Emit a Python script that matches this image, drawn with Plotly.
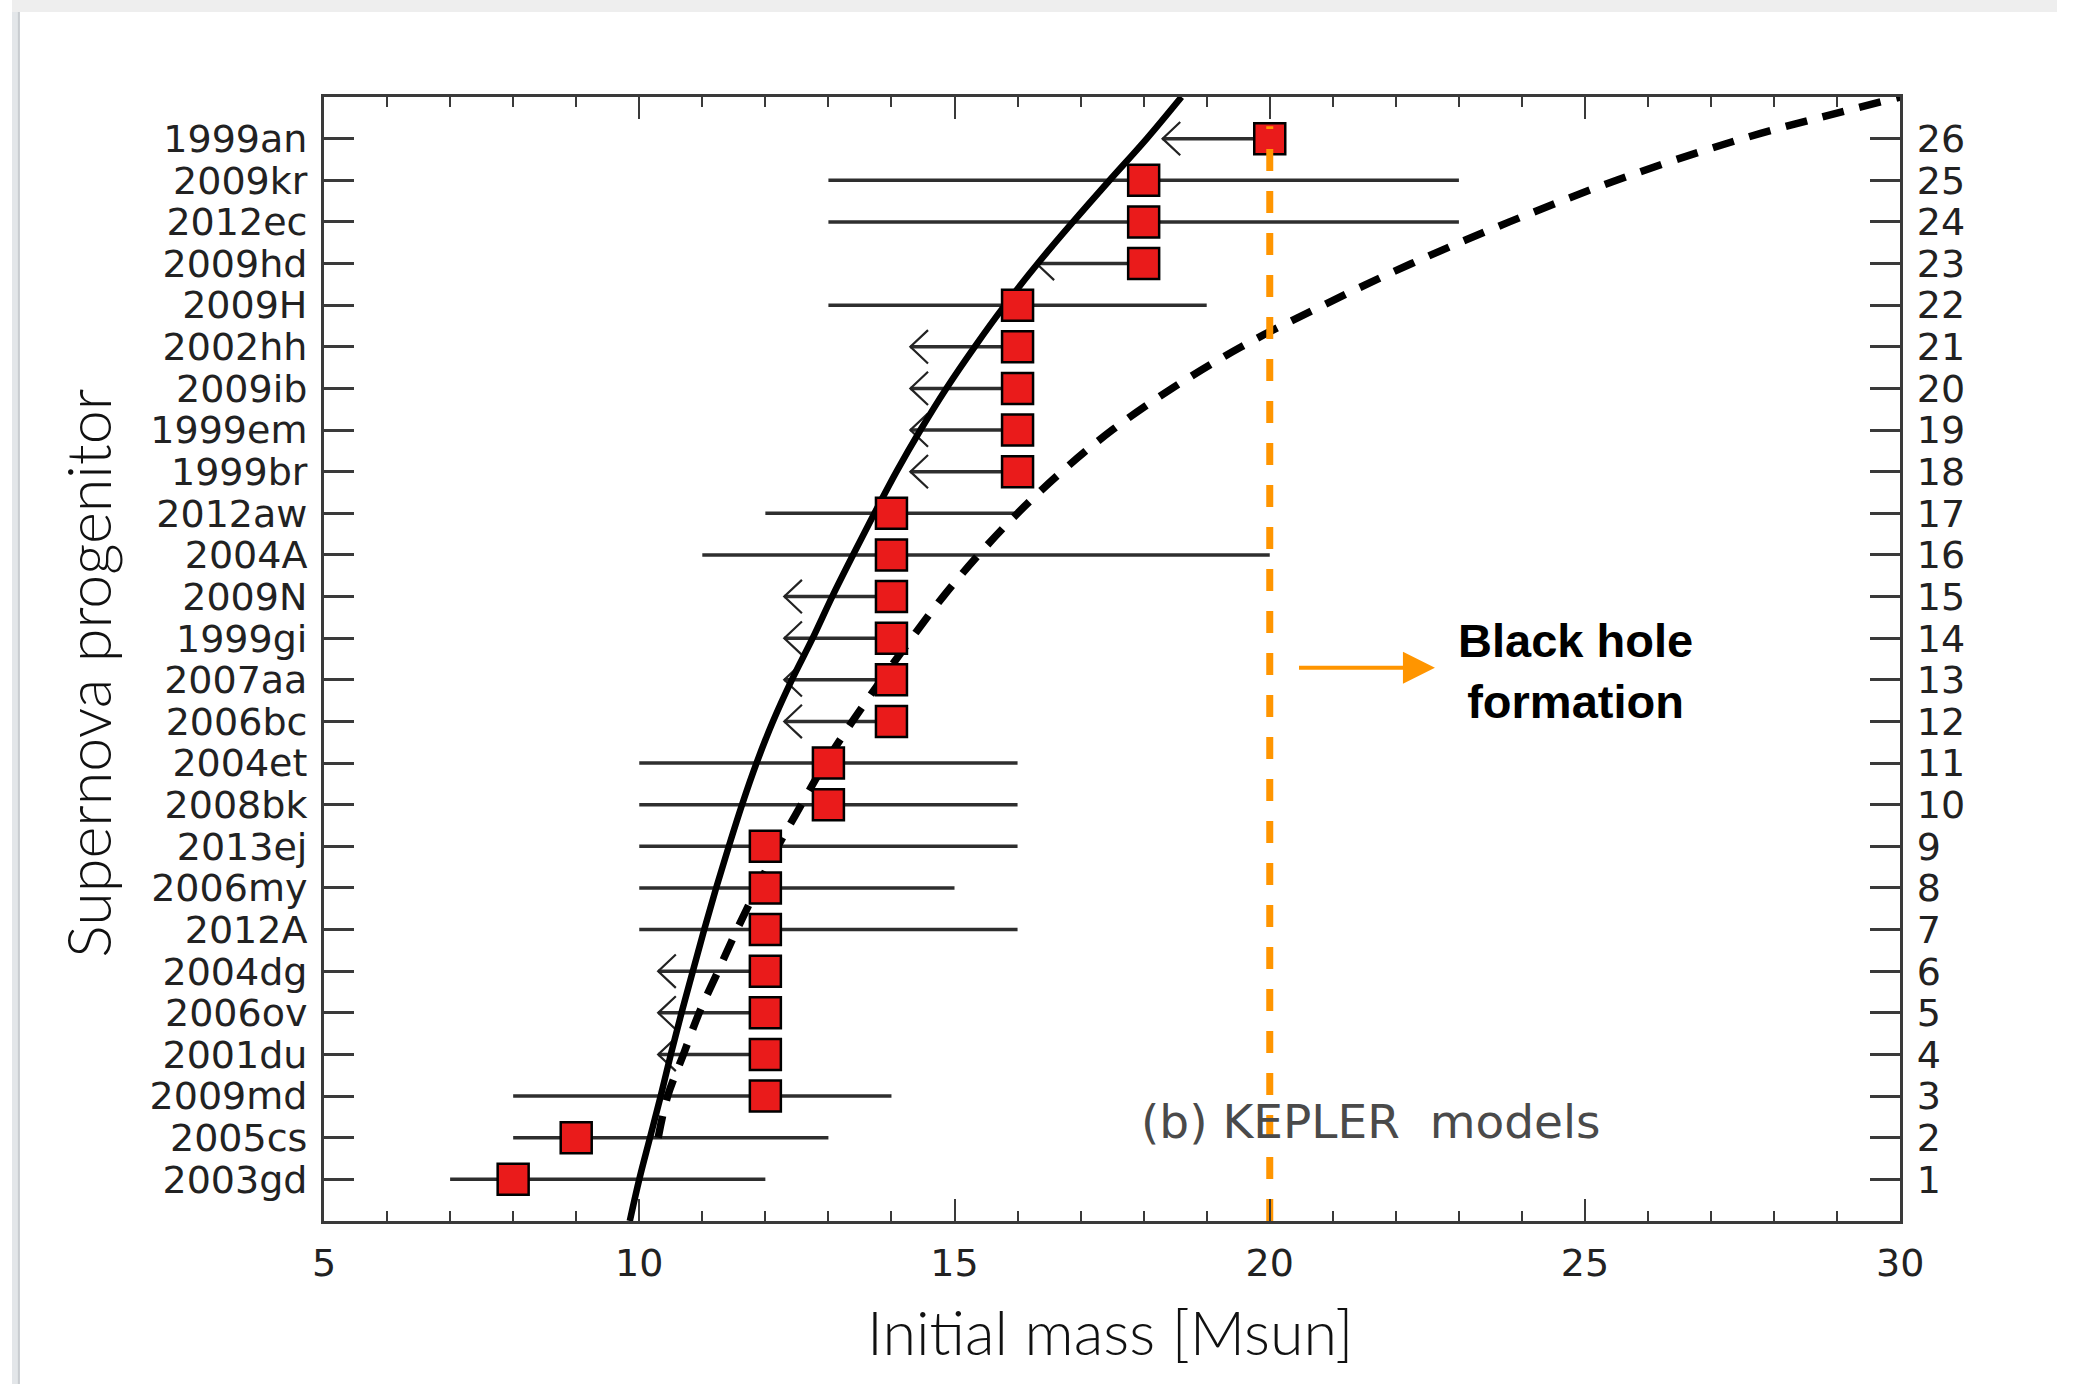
import plotly.graph_objects as go

# ---------------- data ----------------
names = ["2003gd", "2005cs", "2009md", "2001du", "2006ov", "2004dg", "2012A",
         "2006my", "2013ej", "2008bk", "2004et", "2006bc", "2007aa", "1999gi",
         "2009N", "2004A", "2012aw", "1999br", "1999em", "2009ib", "2002hh",
         "2009H", "2009hd", "2012ec", "2009kr", "1999an"]
rank = list(range(1, 27))
mass = [8, 9, 12, 12, 12, 12, 12, 12, 12, 13, 13, 14, 14, 14, 14, 14, 14,
        16, 16, 16, 16, 16, 18, 18, 18, 20]
mass_lo = [7, 8, 8, None, None, None, 10, 10, 10, 10, 10, None, None, None,
           None, 11, 12, None, None, None, None, 13, None, 13, 13, None]
mass_hi = [12, 13, 14, None, None, None, 16, 15, 16, 16, 16, None, None, None,
           None, 20, 16, None, None, None, None, 19, None, 23, 23, None]

# model curves (KEPLER)
solid_y = list(range(0, 28))
solid_x = [9.85, 10.0, 10.17, 10.34, 10.5, 10.67, 10.85, 11.03, 11.22, 11.42,
           11.63, 11.86, 12.12, 12.42, 12.75, 13.06, 13.39, 13.73, 14.08,
           14.46, 14.87, 15.32, 15.8, 16.32, 16.88, 17.46, 18.05, 18.6]
dashed_y = list(range(2, 28))
dashed_x = [10.3, 10.45, 10.7, 10.95, 11.25, 11.55, 11.87, 12.2, 12.57,
            12.95, 13.38, 13.84, 14.32, 14.82, 15.38, 16.0, 16.7, 17.5,
            18.45, 19.55, 20.85, 22.25, 23.8, 25.5, 27.5, 30.0]

bh_mass = 20          # black-hole formation threshold
bh_line_top = 26.3

# ---------------- style constants ----------------
ARROW_LEN = 1.7
CHEV_DX = 0.28
CHEV_DY = 0.4
W, H = 2081, 1384
XL, XR, YT, YB = 317.5, 1921.5, 97, 1221
ORANGE = "#FF9500"
AX = "#3a3a3a"
TICKFONT = dict(family="DejaVu Sans", size=38, color="#222222")

err_plus, err_minus = [], []
chev_x, chev_y = [], []
for m, lo, hi, r in zip(mass, mass_lo, mass_hi, rank):
    if lo is None:
        err_plus.append(0)
        err_minus.append(ARROW_LEN)
        tip = m - ARROW_LEN
        chev_x += [tip + CHEV_DX, tip, tip + CHEV_DX, None]
        chev_y += [r + CHEV_DY, r, r - CHEV_DY, None]
    else:
        err_plus.append(hi - m)
        err_minus.append(m - lo)

fig = go.Figure()

fig.add_trace(go.Scatter(
    x=mass, y=rank, mode="markers",
    marker=dict(size=1, color="rgba(0,0,0,0)"),
    error_x=dict(type="data", symmetric=False, array=err_plus,
                 arrayminus=err_minus, width=0, thickness=3.5,
                 color="#2e2e2e"),
    showlegend=False, hoverinfo="skip"))

fig.add_trace(go.Scatter(
    x=chev_x, y=chev_y, mode="lines",
    line=dict(color="#222222", width=2.2),
    showlegend=False, hoverinfo="skip"))

fig.add_trace(go.Scatter(
    x=solid_x, y=solid_y, mode="lines",
    line=dict(color="black", width=6.5, shape="spline"),
    showlegend=False, hoverinfo="skip"))
fig.add_trace(go.Scatter(
    x=dashed_x, y=dashed_y, mode="lines",
    line=dict(color="black", width=7.5, dash="22px,16px", shape="spline"),
    showlegend=False, hoverinfo="skip"))

fig.add_trace(go.Scatter(
    x=mass, y=rank, mode="markers",
    marker=dict(symbol="square", size=31, color="#EA1B1B",
                line=dict(color="black", width=2.5)),
    showlegend=False, hoverinfo="skip"))

fig.add_trace(go.Scatter(
    x=[bh_mass, bh_mass], y=[0, bh_line_top], mode="lines",
    line=dict(color=ORANGE, width=7, dash="22px,20px"),
    showlegend=False, hoverinfo="skip"))

fig.add_trace(go.Scatter(
    x=[5], y=[0], xaxis="x2", yaxis="y2", mode="markers",
    marker=dict(size=1, color="rgba(0,0,0,0)"),
    showlegend=False, hoverinfo="skip"))

xdom = [XL / W, XR / W]
ydom = [1 - YB / H, 1 - YT / H]

xcommon = dict(range=[5, 30], domain=xdom, tick0=5, dtick=5, ticks="inside",
               ticklen=22, tickwidth=2, tickcolor=AX, showline=True,
               linecolor=AX, linewidth=3, showgrid=False, zeroline=False,
               minor=dict(tick0=5, dtick=1, ticks="inside", ticklen=10,
                          tickwidth=2, tickcolor=AX, showgrid=False))
ycommon = dict(range=[0, 27], domain=ydom, tickmode="array", tickvals=rank,
               ticks="inside", ticklen=30, tickwidth=3, tickcolor=AX,
               showline=True, linecolor=AX, linewidth=3, showgrid=False,
               zeroline=False)

fig.update_layout(
    width=W, height=H, autosize=False,
    margin=dict(l=0, r=0, t=0, b=0, pad=0),
    paper_bgcolor="white", plot_bgcolor="white",
    xaxis=dict(**xcommon, tickfont=TICKFONT, ticklabelstandoff=6),
    xaxis2=dict(**xcommon, overlaying="x", side="top", anchor="y2",
                showticklabels=False),
    yaxis=dict(**ycommon, ticktext=names, tickfont=TICKFONT,
               ticklabelstandoff=6),
    yaxis2=dict(**ycommon, ticktext=[str(r) for r in rank], overlaying="y",
                side="right", anchor="x2", tickfont=TICKFONT,
                ticklabelstandoff=6),
    shapes=[
        dict(type="rect", xref="paper", yref="paper", x0=0, x1=8 / W,
             y0=0, y1=1, fillcolor="#e3e6e9", line=dict(width=0),
             layer="below"),
        dict(type="line", xref="paper", yref="paper", x0=7 / W, x1=7 / W,
             y0=0, y1=1 - 12 / H, line=dict(color="#c9ccd0", width=2),
             layer="below"),
        dict(type="rect", xref="paper", yref="paper", x0=0, x1=1,
             y0=1 - 12 / H, y1=1, fillcolor="#eeeeee", line=dict(width=0),
             layer="below"),
    ],
    annotations=[
        dict(text="Initial mass [Msun]", xref="paper", yref="paper",
             x=1117 / W, y=1 - 1331 / H, showarrow=False, xanchor="center",
             yanchor="middle",
             font=dict(family="Lato", size=61, weight=300, color="#111111")),
        dict(text="Supernova progenitor", xref="paper", yref="paper",
             x=76 / W, y=1 - 673 / H, showarrow=False, textangle=-90,
             xanchor="center", yanchor="middle",
             font=dict(family="Lato", size=61, weight=300, color="#111111")),
        dict(text="(b) KEPLER  models", x=21.6, y=2.38, xref="x", yref="y",
             showarrow=False, xanchor="center", yanchor="middle",
             font=dict(family="DejaVu Sans", size=47, color="#4a4a4a")),
        dict(text="<b>Black hole<br>formation</b>", x=24.85, y=13.22,
             xref="x", yref="y", showarrow=False, xanchor="center",
             yanchor="middle",
             font=dict(family="Liberation Sans", size=47, color="black")),
        dict(text="", x=22.62, y=13.29, ax=20.44, ay=13.29, xref="x",
             yref="y", axref="x", ayref="y", showarrow=True, arrowhead=2,
             arrowsize=1.6, arrowwidth=4, arrowcolor=ORANGE),
    ],
)

fig.write_html("out.html")
